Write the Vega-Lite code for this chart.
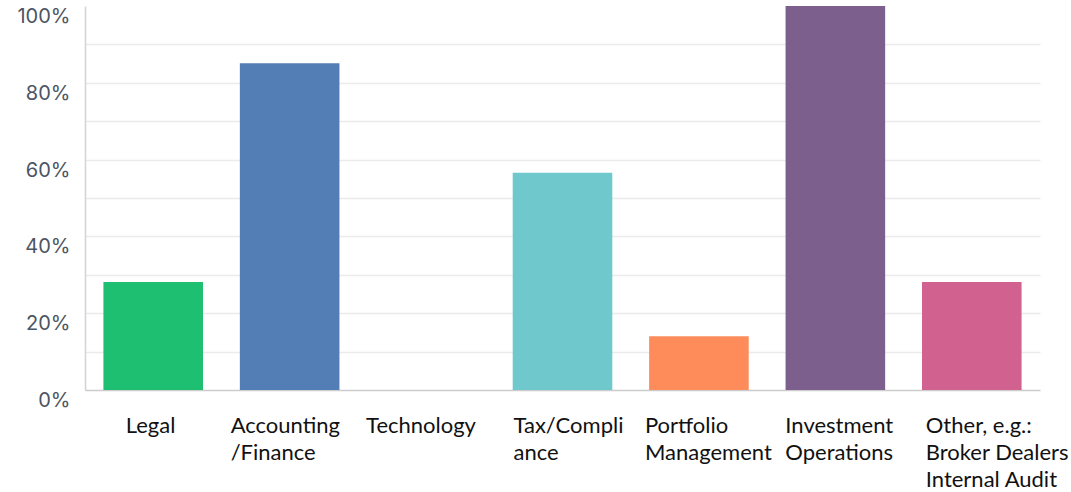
{
  "$schema": "https://vega.github.io/schema/vega-lite/v6.json",
  "width": 955,
  "height": 384,
  "autosize": {"type": "none"},
  "padding": {"left": 85, "top": 6, "right": 31, "bottom": 102},
  "background": "white",
  "data": {
    "values": [
      {"role": "Legal", "share": 0.281},
      {"role": "Accounting/Finance", "share": 0.851},
      {"role": "Technology", "share": 0.0},
      {"role": "Tax/Compliance", "share": 0.566},
      {"role": "Portfolio Management", "share": 0.140},
      {"role": "Investment Operations", "share": 1.0},
      {"role": "Other, e.g.: Broker Dealers Internal Audit", "share": 0.281}
    ]
  },
  "mark": {"type": "bar"},
  "encoding": {
    "x": {
      "field": "role",
      "type": "nominal",
      "sort": null,
      "scale": {"paddingInner": 0.27, "paddingOuter": 0.135},
      "axis": {
        "title": null,
        "labelAngle": 0,
        "labelAlign": "left",
        "labelBaseline": "top",
        "labelPadding": 25,
        "labelFont": "Lato",
        "labelFontSize": 22,
        "labelColor": "#111111",
        "labelLineHeight": 27,
        "labelLimit": 0,
        "ticks": false,
        "domainColor": "#cccccc",
        "domainWidth": 1.5,
        "grid": false,
        "labelExpr": "datum.value == 'Accounting/Finance' ? ['Accounting', '/Finance'] : datum.value == 'Tax/Compliance' ? ['Tax/Compli', 'ance'] : datum.value == 'Portfolio Management' ? ['Portfolio', 'Management'] : datum.value == 'Investment Operations' ? ['Investment', 'Operations'] : datum.value == 'Other, e.g.: Broker Dealers Internal Audit' ? ['Other, e.g.:', 'Broker Dealers', 'Internal Audit'] : datum.label",
        "labelOffset": {
          "condition": [
            {"test": "datum.value == 'Legal'", "value": -27.5},
            {"test": "datum.value == 'Accounting/Finance'", "value": -59},
            {"test": "datum.value == 'Technology'", "value": -60},
            {"test": "datum.value == 'Tax/Compliance'", "value": -49},
            {"test": "datum.value == 'Portfolio Management'", "value": -54},
            {"test": "datum.value == 'Investment Operations'", "value": -50}
          ],
          "value": -46
        }
      }
    },
    "y": {
      "field": "share",
      "type": "quantitative",
      "scale": {"domain": [0, 1], "nice": false},
      "axis": {
        "title": null,
        "values": [0, 0.1, 0.2, 0.3, 0.4, 0.5, 0.6, 0.7, 0.8, 0.9, 1.0],
        "labelExpr": "round(datum.value * 100) % 20 == 0 ? format(datum.value, '.0%') : ''",
        "labelFont": "Inter",
        "labelFontSize": 20,
        "labelColor": "#4b5563",
        "labelPadding": 15,
        "labelOffset": 10.5,
        "ticks": false,
        "domainColor": "#d3d3d3",
        "domainWidth": 1.5,
        "gridColor": {"condition": {"test": "datum.value >= 0.99 || datum.value <= 0.01", "value": "transparent"}, "value": "#ebebeb"},
        "gridWidth": 1.5
      }
    },
    "color": {
      "field": "role",
      "type": "nominal",
      "sort": null,
      "legend": null,
      "scale": {
        "domain": ["Legal", "Accounting/Finance", "Technology", "Tax/Compliance", "Portfolio Management", "Investment Operations", "Other, e.g.: Broker Dealers Internal Audit"],
        "range": ["#1fbf72", "#527db5", "#999999", "#6fc8cb", "#fd8c5a", "#7d5f8d", "#d1628f"]
      }
    }
  },
  "config": {"view": {"stroke": null}}
}
